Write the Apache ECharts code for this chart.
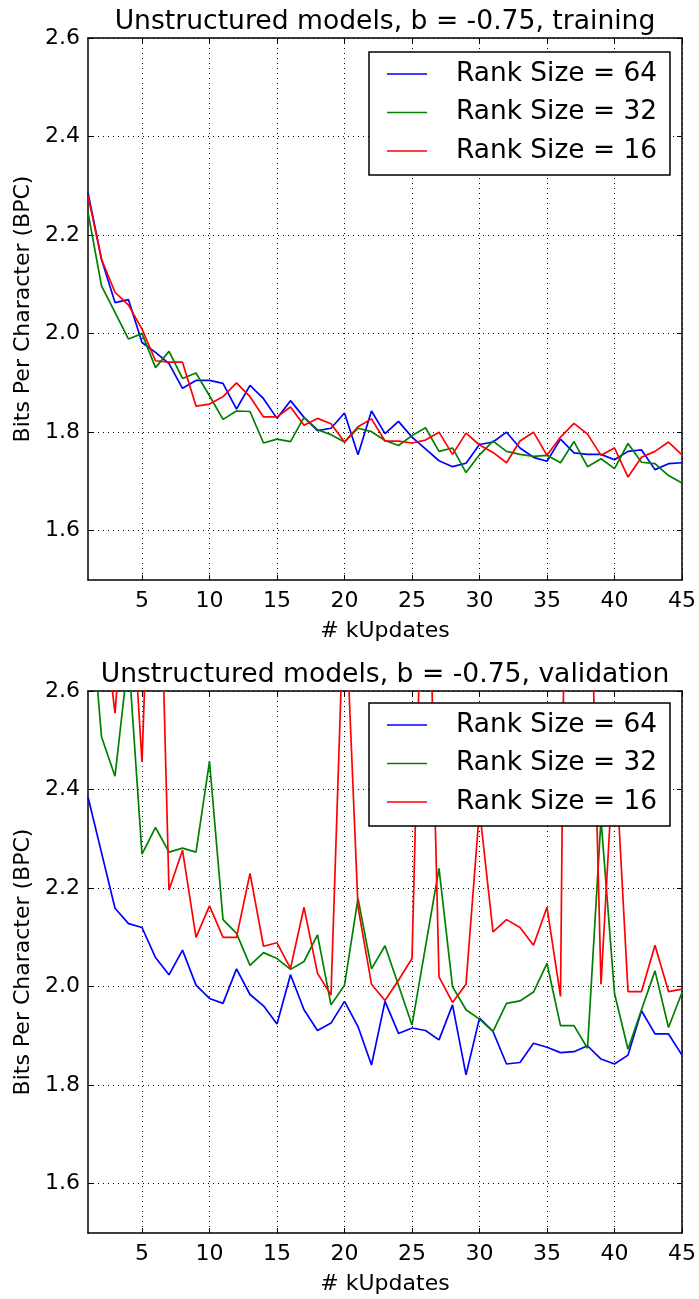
<!DOCTYPE html>
<html><head><meta charset="utf-8">
<script src="https://cdn.jsdelivr.net/npm/echarts@6/dist/echarts.min.js"></script>
<style>html,body{margin:0;padding:0;background:#fff}#c{width:699px;height:1299px}</style>
</head><body><div id="c"></div>
<script>
const kUpdates = [1,2,3,4,5,6,7,8,9,10,11,12,13,14,15,16,17,18,19,20,21,22,23,24,25,26,27,28,29,30,31,32,33,34,35,36,37,38,39,40,41,42,43,44,45];
const xTicks = [5,10,15,20,25,30,35,40,45];
const yTicks = [1.6,1.8,2.0,2.2,2.4,2.6];
const seriesNames = ['Rank Size = 64','Rank Size = 32','Rank Size = 16'];
const seriesColors = ['#0000ff','#008000','#ff0000'];
const titles = ['Unstructured models, b = -0.75, training','Unstructured models, b = -0.75, validation'];

const train64 = [2.286,2.151,2.063,2.069,1.982,1.962,1.939,1.889,1.905,1.905,1.899,1.847,1.895,1.868,1.828,1.864,1.830,1.803,1.808,1.839,1.754,1.843,1.797,1.822,1.790,1.766,1.742,1.730,1.737,1.775,1.780,1.800,1.768,1.749,1.741,1.786,1.758,1.755,1.755,1.744,1.761,1.764,1.724,1.736,1.738];
const train32 = [2.246,2.097,2.043,1.989,2.000,1.931,1.964,1.909,1.920,1.874,1.826,1.843,1.842,1.778,1.786,1.781,1.830,1.805,1.795,1.780,1.808,1.801,1.783,1.773,1.793,1.809,1.761,1.768,1.718,1.754,1.782,1.761,1.755,1.751,1.753,1.738,1.781,1.730,1.746,1.726,1.777,1.739,1.736,1.712,1.697];
const train16 = [2.280,2.151,2.084,2.058,2.009,1.945,1.942,1.942,1.853,1.857,1.872,1.900,1.872,1.831,1.831,1.851,1.814,1.828,1.817,1.780,1.811,1.827,1.782,1.782,1.778,1.784,1.800,1.755,1.798,1.774,1.759,1.738,1.782,1.800,1.753,1.790,1.818,1.796,1.753,1.768,1.709,1.749,1.761,1.780,1.754];

const val64 = [2.385,2.272,2.159,2.128,2.120,2.059,2.024,2.074,2.003,1.976,1.966,2.036,1.984,1.961,1.924,2.024,1.953,1.911,1.926,1.970,1.919,1.841,1.970,1.905,1.916,1.911,1.892,1.963,1.821,1.936,1.909,1.843,1.846,1.885,1.877,1.866,1.868,1.880,1.853,1.843,1.861,1.951,1.904,1.904,1.861];
const val32 = [2.84,2.507,2.427,2.67,2.269,2.323,2.273,2.281,2.273,2.457,2.136,2.108,2.043,2.069,2.057,2.035,2.051,2.105,1.963,2.003,2.179,2.036,2.083,2.003,1.922,2.081,2.240,2.000,1.953,1.934,1.909,1.966,1.971,1.989,2.047,1.921,1.921,1.875,2.34,1.986,1.873,1.953,2.032,1.917,1.988];
const val16 = [3.0,2.79,2.555,2.90,2.456,3.25,2.196,2.277,2.100,2.164,2.100,2.100,2.230,2.082,2.089,2.037,2.161,2.027,1.983,2.82,2.162,2.005,1.972,2.013,2.057,3.15,2.020,1.968,2.005,2.36,2.111,2.136,2.120,2.084,2.161,1.980,4.8,3.1,2.005,2.5,1.990,1.990,2.084,1.990,1.995];

const FONT = 'DejaVu Sans';
const gridTops = [38, 691];
const gridH = 542;
const legendTops = [52, 703];
const isXTick = (i, v) => xTicks.indexOf(+v) >= 0;
const blackLine = {show: true, lineStyle: {color: '#000', width: 1.5}};

const grids = [], xAxes = [], yAxes = [], legends = [], titleArr = [];
const dataSets = [[train64, train32, train16], [val64, val32, val16]];
const series = [];

for (let g = 0; g < 2; g++) {
  grids.push({left: 88, top: gridTops[g], width: 596, height: gridH, containLabel: false});
  titleArr.push({text: titles[g], left: 380, textAlign: 'center', top: gridTops[g] - 34,
    textStyle: {fontFamily: FONT, fontSize: 26.6, fontWeight: 'normal', color: '#000'}});
  xAxes.push({type: 'category', gridIndex: g, data: kUpdates, boundaryGap: false, position: 'bottom',
    name: '# kUpdates', nameLocation: 'middle', nameGap: 40,
    nameTextStyle: {fontFamily: FONT, fontSize: 22, color: '#000'},
    axisLine: blackLine,
    axisTick: {show: true, inside: true, length: 5, interval: isXTick, lineStyle: {color: '#000', width: 1}},
    axisLabel: {show: true, interval: isXTick, margin: 10, fontFamily: FONT, fontSize: 22, color: '#000'},
    splitLine: {show: true, interval: isXTick, lineStyle: {color: '#000', width: 1, type: [1, 4]}}});
  xAxes.push({type: 'category', gridIndex: g, data: kUpdates, boundaryGap: false, position: 'top',
    axisLine: blackLine,
    axisTick: {show: true, inside: true, length: 5, interval: isXTick, lineStyle: {color: '#000', width: 1}},
    axisLabel: {show: false}, splitLine: {show: false}});
  yAxes.push({type: 'value', gridIndex: g, min: 1.5, max: 2.6, position: 'left',
    name: 'Bits Per Character (BPC)', nameLocation: 'middle', nameGap: 54,
    nameTextStyle: {fontFamily: FONT, fontSize: 22, color: '#000'},
    axisLine: blackLine,
    axisTick: {show: true, inside: true, length: 5, customValues: yTicks, lineStyle: {color: '#000', width: 1}},
    axisLabel: {show: true, customValues: yTicks, margin: 8, fontFamily: FONT, fontSize: 22, color: '#000',
      formatter: v => (+v).toFixed(1)},
    splitLine: {show: true, lineStyle: {color: '#000', width: 1, type: [1, 4]}}});
  yAxes.push({type: 'value', gridIndex: g, min: 1.5, max: 2.6, position: 'right',
    axisLine: blackLine,
    axisTick: {show: true, inside: true, length: 5, customValues: yTicks, lineStyle: {color: '#000', width: 1}},
    axisLabel: {show: false, customValues: yTicks}, splitLine: {show: false}});
  legends.push({left: 369, top: legendTops[g], orient: 'vertical', data: seriesNames,
    backgroundColor: '#fff', borderColor: '#000', borderWidth: 1.5, borderRadius: 0,
    padding: [7, 13, 9, 18], itemWidth: 40, itemHeight: 1.6, itemGap: 8.5, icon: 'rect',
    textStyle: {fontFamily: FONT, fontSize: 26.4, color: '#000', lineHeight: 30, padding: [0, 0, 0, 24]},
    z: 10});
  for (let s = 0; s < 3; s++) {
    series.push({type: 'line', name: seriesNames[s], xAxisIndex: g * 2, yAxisIndex: g * 2,
      data: dataSets[g][s], symbol: 'none', showSymbol: false, clip: true, animation: false,
      color: seriesColors[s], lineStyle: {color: seriesColors[s], width: 1.7}, z: 2});
  }
}

const chart = echarts.init(document.getElementById('c'), null, {renderer: 'canvas'});
chart.setOption({
  animation: false,
  backgroundColor: '#fff',
  title: titleArr,
  grid: grids,
  xAxis: xAxes,
  yAxis: yAxes,
  legend: legends,
  series: series
});
</script></body></html>
